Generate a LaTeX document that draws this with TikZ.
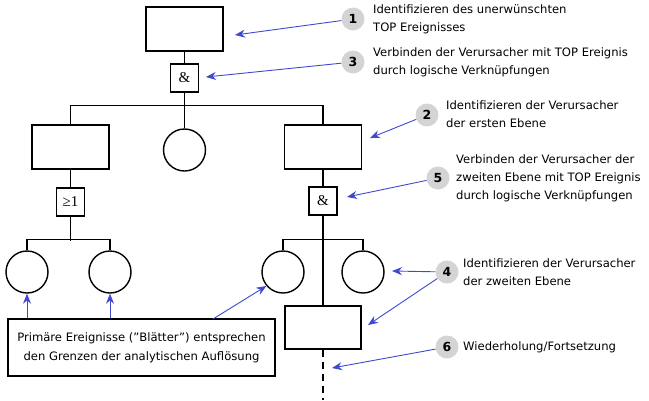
\documentclass[tikz,border=0pt]{standalone}
\usepackage{fontspec}
\setmainfont{DejaVu Sans}
\newfontfamily\gatefont{Liberation Serif}
\usetikzlibrary{arrows.meta}
\definecolor{arrowblue}{RGB}{64,72,208}
\definecolor{badgegray}{RGB}{212,212,212}
\begin{document}
\begin{tikzpicture}[x=1pt,y=-1pt,
  evt/.style={draw, line width=1.4pt, minimum width=77pt, minimum height=44pt, inner sep=0pt},
  gate/.style={draw, line width=1.4pt, minimum size=28pt, inner sep=0pt, font=\gatefont\fontsize{15}{15}\selectfont},
  leaf/.style={draw, circle, line width=1.4pt, minimum size=42pt, inner sep=0pt},
  tree/.style={line width=1.4pt},
  badge/.style={circle, fill=badgegray, minimum size=23pt, inner sep=0pt, font=\bfseries\fontsize{12.5}{12.5}\selectfont},
  note/.style={anchor=west, align=left, inner sep=0pt, font=\fontsize{11.6}{18}\selectfont},
  callout/.style={draw=arrowblue, line width=0.9pt, -{Stealth[length=10pt,width=8pt]}}]
\useasboundingbox (0,0) rectangle (649,400);

% fault tree
\node[evt] (top) at (184.5,29) {};
\node[gate] (and1) at (184.5,78) {\&};
\node[evt] (lbox) at (70.5,147) {};
\node[leaf] (mcirc) at (184.5,150) {};
\node[evt] (rbox) at (323,147) {};
\node[gate] (or1) at (70.5,202) {≥1};
\node[gate] (and2) at (323,201) {\&};
\node[leaf] (l1) at (27,272) {};
\node[leaf] (l2) at (110,272) {};
\node[leaf] (r1) at (283,272) {};
\node[leaf] (r2) at (363,272) {};
\node[evt, minimum width=76pt, minimum height=43pt] (bbox) at (323,327.5) {};
\coordinate (cont) at (323,400);

\draw[tree] (top) -- (and1);
\draw[tree] (and1) -- (mcirc);
\draw[tree] (lbox.north) -- ++(0,-19) -| (rbox.north);
\draw[tree] (lbox) -- (or1);
\draw[tree] (rbox) -- (and2);
\draw[tree] (or1.south) -- ++(0,24);
\draw[tree] (l1.north) -- ++(0,-11) -| (l2.north);
\draw[tree] (r1.north) -- ++(0,-11) -| (r2.north);
\draw[tree] (and2) -- (bbox);
\draw[tree, dash pattern=on 7pt off 5pt] (bbox.south) -- (cont);

% legend box for the leaves
\node[draw, line width=1.4pt, minimum width=267pt, minimum height=57pt, align=center,
      font=\fontsize{11.6}{19}\selectfont] (legend) at (141.5,347.5)
  {Primäre Ereignisse (”Blätter”) entsprechen\\den Grenzen der analytischen Auflösung};
\coordinate (ls) at (213,319);
\draw[callout] (legend.north -| l1) -- (l1.south);
\draw[callout] (legend.north -| l2) -- (l2.south);
\draw[callout] (ls) -- (r1.220);

% numbered steps
\node[badge] (b1) at (353,19) {1};
\node[badge] (b3) at (353,62) {3};
\node[badge] (b2) at (427,115) {2};
\node[badge] (b5) at (438,178) {5};
\node[badge] (b4) at (447,272) {4};
\node[badge] (b6) at (447,347) {6};

\node[note] (n1) at (373,19) {Identifizieren des unerwünschten\\TOP Ereignisses};
\node[note] (n3) at (373,62) {Verbinden der Verursacher mit TOP Ereignis\\durch logische Verknüpfungen};
\node[note] (n2) at (446,114) {Identifizieren der Verursacher\\der ersten Ebene};
\node[note] (n5) at (456,178) {Verbinden der Verursacher der\\zweiten Ebene mit TOP Ereignis\\durch logische Verknüpfungen};
\node[note] (n4) at (463,272) {Identifizieren der Verursacher\\der zweiten Ebene};
\node[note] (n6) at (463,347) {Wiederholung/Fortsetzung};

\coordinate (t1) at (235,35);
\coordinate (t3) at (206,77);
\coordinate (t2) at (370,138);
\coordinate (t5) at (347,197);
\coordinate (t4a) at (392,271);
\coordinate (t4b) at (368,325);
\coordinate (t6) at (332,368);
\draw[callout] (b1) -- (t1);
\draw[callout] (b3) -- (t3);
\draw[callout] (b2) -- (t2);
\draw[callout] (b5) -- (t5);
\draw[callout] (b4) -- (t4a);
\draw[callout] (b4) -- (t4b);
\draw[callout] (b6) -- (t6);
\end{tikzpicture}
\end{document}
